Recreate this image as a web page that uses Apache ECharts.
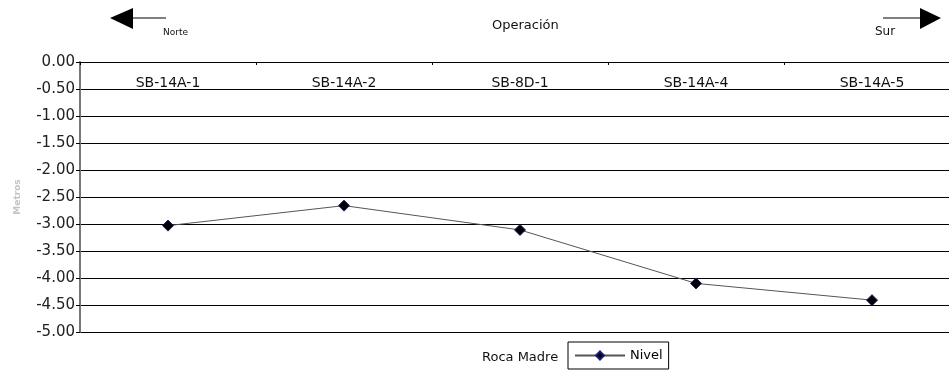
<!DOCTYPE html>
<html><head><meta charset="utf-8">
<script src="https://cdn.jsdelivr.net/npm/echarts@6/dist/echarts.min.js"></script>
<style>html,body{margin:0;padding:0;background:#fff}#c{width:949px;height:371px}</style>
</head><body><div id="c"></div>
<script>
const categories = ['SB-14A-1','SB-14A-2','SB-8D-1','SB-14A-4','SB-14A-5'];
const nivel = [-3.03, -2.66, -3.11, -4.10, -4.41];
const seriesName = 'Nivel';
const chartTitle = 'Operación';
const xTitle = 'Roca Madre';
const yTitle = 'Metros';
const FONT = 'DejaVu Sans';

const chart = echarts.init(document.getElementById('c'));
chart.setOption({
  animation: false,
  textStyle: {fontFamily: FONT},
  grid: {left: 80, top: 62, right: -11, height: 270, containLabel: false, outerBoundsMode: 'none'},
  xAxis: {
    type: 'category', data: categories, position: 'top', boundaryGap: true,
    axisLine: {show: true, onZero: false, lineStyle: {color: '#000', width: 1}},
    axisTick: {show: true, inside: true, length: 3, lineStyle: {color: '#000'}},
    axisLabel: {inside: true, margin: 14, color: '#111', fontSize: 14, fontFamily: FONT},
    splitLine: {show: false}
  },
  yAxis: {
    type: 'value', min: -5, max: 0, interval: 0.5,
    name: yTitle, nameLocation: 'middle', nameGap: 58, nameRotate: 90,
    nameTextStyle: {color: '#c4c4c4', fontSize: 9, fontWeight: 'bold', fontFamily: FONT},
    axisLine: {show: true, lineStyle: {color: '#777', width: 2}},
    axisTick: {show: true, length: 4, lineStyle: {color: '#000'}},
    axisLabel: {color: '#222', fontSize: 15, margin: 5, fontFamily: FONT, formatter: v => v.toFixed(2)},
    splitLine: {show: true, lineStyle: {color: '#000', width: 1}}
  },
  legend: {
    data: [seriesName], left: 568, top: 342, orient: 'horizontal',
    borderColor: '#000', borderWidth: 1, padding: [7, 6, 7, 6],
    itemWidth: 50, itemHeight: 10, itemGap: 4,
    textStyle: {color: '#000', fontSize: 13, fontFamily: FONT}
  },
  series: [{
    name: seriesName, type: 'line', data: nivel,
    symbol: 'diamond', symbolSize: 11,
    lineStyle: {color: '#555', width: 1},
    itemStyle: {color: '#000', borderColor: '#1a1a6e', borderWidth: 1}
  }],
  graphic: [
    {type: 'text', left: 492, top: 19, style: {text: chartTitle, font: '13px ' + FONT, fill: '#111'}},
    {type: 'text', left: 482, top: 351, style: {text: xTitle, font: '13px ' + FONT, fill: '#111'}},
    {type: 'polygon', shape: {points: [[110,18],[133,8],[133,29]]}, style: {fill: '#000'}},
    {type: 'line', shape: {x1: 133, y1: 18, x2: 166, y2: 18}, style: {stroke: '#000', lineWidth: 1}},
    {type: 'text', left: 163, top: 28, style: {text: 'Norte', font: '9px ' + FONT, fill: '#111'}},
    {type: 'polygon', shape: {points: [[941,18],[920,8],[920,29]]}, style: {fill: '#000'}},
    {type: 'line', shape: {x1: 883, y1: 18, x2: 920, y2: 18}, style: {stroke: '#000', lineWidth: 1}},
    {type: 'text', left: 875, top: 26, style: {text: 'Sur', font: '12px ' + FONT, fill: '#111'}}
  ]
});
</script></body></html>
